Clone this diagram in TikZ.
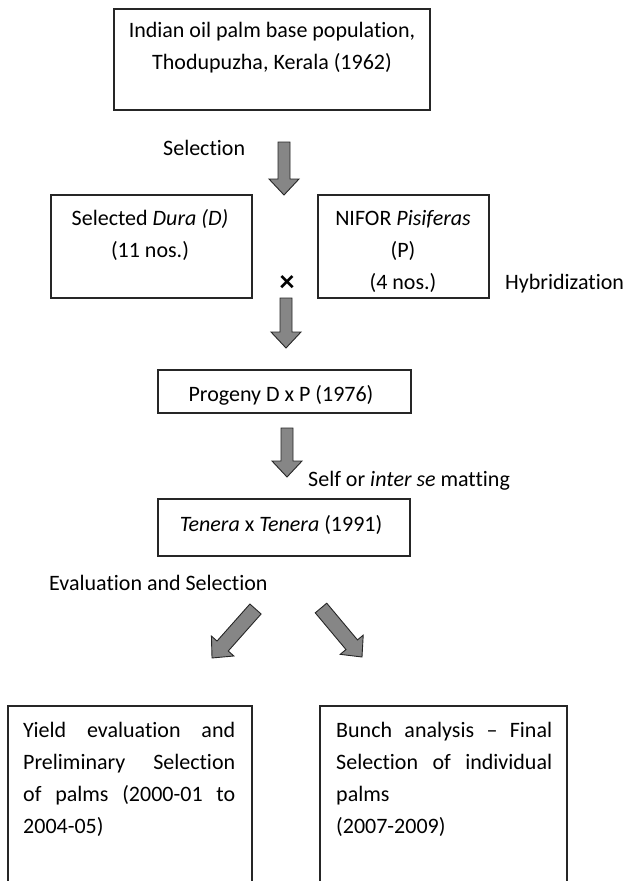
\documentclass[tikz,border=0pt]{standalone}
\usepackage{fontspec}
\setmainfont{Carlito}[Ligatures={TeX,NoCommon}]
\usetikzlibrary{calc}

\definecolor{arrowgray}{RGB}{134,134,134}

\tikzset{
	box/.style={draw=black!85, line width=1.2pt},
	lbl/.style={font=\fontsize{22}{32}\selectfont, inner sep=0pt, align=center},
	fatarrow/.style={draw=black!85, line width=0.9pt, fill=arrowgray, line join=miter},
}

% block arrow from #2 to #3, #1 = half width of the shaft
\newcommand{\fatarrow}[3][6]{%
	\path[fatarrow] let \p1=(#2), \p2=(#3), \n1={atan2(\y2-\y1,\x2-\x1)}, \n2={veclen(\x2-\x1,\y2-\y1)} in
		[shift={(\p1)}, rotate=\n1]
		(0pt,-#1pt) -- (\n2-16pt,-#1pt) -- (\n2-16pt,-15pt) -- (\n2,0pt)
		-- (\n2-16pt,15pt) -- (\n2-16pt,#1pt) -- (0pt,#1pt) -- cycle;}

\begin{document}
\begin{tikzpicture}[x=1pt, y=-1pt]

	\useasboundingbox (0,0) rectangle (629,881);

	% boxes
	\node[box, minimum width=316pt, minimum height=101pt] (base) at (272,59.5) {};
	\node[box, minimum width=201pt, minimum height=103pt] (dura) at (151.5,246.5) {};
	\node[box, minimum width=171pt, minimum height=103pt] (pisi) at (403.5,246.5) {};
	\node[box, minimum width=253pt, minimum height=43pt] (prog) at (284.5,391.5) {};
	\node[box, minimum width=252pt, minimum height=57pt] (tene) at (284,527.5) {};
	\draw[box] (8,882) |- (252,706) -- (252,882);
	\draw[box] (320,882) |- (567,706) -- (567,882);

	% texts in the boxes
	\node[lbl] (base txt) at (272,48) {Indian oil palm base population,\\Thodupuzha, Kerala (1962)};
	\node[lbl] (dura txt) at (150,235) {Selected \textit{Dura (D)}\\(11 nos.)};
	\node[lbl] (pisi txt) at (403,251) {NIFOR \textit{Pisiferas}\\(P)\\(4 nos.)};
	\node[lbl] (prog txt) at (281,395) {Progeny D x P (1976)};
	\node[lbl] (tene txt) at (281,525) {\textit{Tenera} x \textit{Tenera} (1991)};
	\node[lbl, align=left, anchor=north west] (yield txt) at (23,722) {%
		\makebox[212pt][s]{Yield evaluation and}\\
		\makebox[212pt][s]{Preliminary Selection}\\
		\makebox[212pt][s]{of palms (2000-01 to}\\
		2004-05)};
	\node[lbl, align=left, anchor=north west] (bunch txt) at (336,722) {%
		\makebox[216pt][s]{Bunch analysis – Final}\\
		\makebox[216pt][s]{Selection of individual}\\
		palms\\
		(2007-2009)};

	% side labels
	\node[lbl, anchor=west] (sel) at (163,148) {Selection};
	\node[lbl, font=\fontsize{30}{30}\selectfont\bfseries] (cross) at (287,283) {×};
	\node[lbl, anchor=west] (hyb) at (505,284) {Hybridization};
	\node[lbl, anchor=west] (self) at (308,481) {Self or \textit{inter se} matting};
	\node[lbl, anchor=west] (eval) at (49,583) {Evaluation and Selection};

	% arrows
	\coordinate (a1s) at (284,142);
	\coordinate (a1e) at (284,195);
	\coordinate (a2s) at (286,298);
	\coordinate (a2e) at (286,348);
	\coordinate (a3s) at (287,428);
	\coordinate (a3e) at (287,477);
	\coordinate (l1s) at (255.5,609);
	\coordinate (l1e) at (212,658);
	\coordinate (r1s) at (321,608);
	\coordinate (r1e) at (362,657);

	\fatarrow{a1s}{a1e}
	\fatarrow{a2s}{a2e}
	\fatarrow{a3s}{a3e}
	\fatarrow[7.5]{l1s}{l1e}
	\fatarrow[7.5]{r1s}{r1e}

\end{tikzpicture}
\end{document}
